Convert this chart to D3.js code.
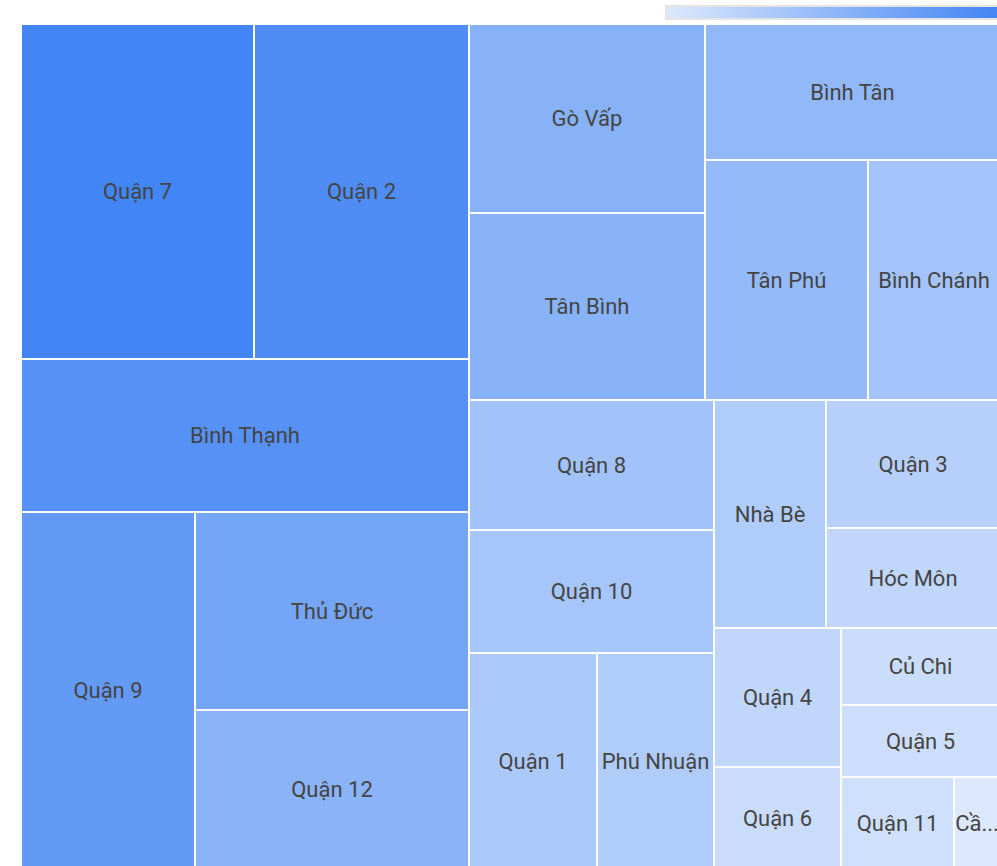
<!DOCTYPE html>
<html>
<head>
<meta charset="utf-8">
<title>Treemap quận huyện</title>
<script src="https://cdn.jsdelivr.net/npm/d3@7"></script>
<style>
  body { margin: 0; background: #fff; }
  text { font-family: Roboto, "Noto Sans", sans-serif; }
</style>
</head>
<body>
<div id="chart"></div>
<script>

    // districts and their sizes (arbitrary units)
    var districts = ["Quận 7", "Quận 2", "Bình Thạnh", "Quận 9", "Thủ Đức", "Quận 12",
                     "Gò Vấp", "Tân Bình", "Bình Tân", "Tân Phú", "Bình Chánh",
                     "Quận 8", "Quận 10", "Quận 1", "Phú Nhuận", "Nhà Bè", "Quận 3",
                     "Hóc Môn", "Quận 4", "Quận 6", "Củ Chi", "Quận 5", "Quận 11", "Cần Giờ"];
    var values = [77.8, 71.5, 68.4, 61.9, 53.8, 43.4,
                  44.6, 43.9, 40.0, 38.7, 31.5,
                  31.9, 30.1, 27.5, 25.2, 25.3, 22.3,
                  17.4, 17.4, 12.9, 12.2, 11.3, 10.4, 4.2];

    // how the cells are grouped in the reference layout
    var groups = [
        [[["Quận 7", "Quận 2"], "Bình Thạnh"], ["Quận 9", ["Thủ Đức", "Quận 12"]]],
        [[["Gò Vấp", "Tân Bình"], ["Bình Tân", ["Tân Phú", "Bình Chánh"]]],
         [["Quận 8", "Quận 10", ["Quận 1", "Phú Nhuận"]],
          [["Nhà Bè", ["Quận 3", "Hóc Môn"]],
           [["Quận 4", "Quận 6"], ["Củ Chi", "Quận 5", ["Quận 11", "Cần Giờ"]]]]]]
    ];

    var minColor = "#dce8fd", maxColor = "#4285f4";

    var width = 997, height = 866;
    var marginLeft = 22, marginTop = 25, innerW = 977, innerH = 843;

    var valueOf = {};
    districts.forEach(function(d, i) { valueOf[d] = values[i]; });

    var color = d3.scaleLinear()
        .domain([d3.min(values), d3.max(values)])
        .range([minColor, maxColor])
        .interpolate(d3.interpolateRgb);

    var svg = d3.select("#chart").append("svg")
        .attr("width", width)
        .attr("height", height);

    // colour scale legend, top right
    var grad = svg.append("defs").append("linearGradient")
        .attr("id", "legendGrad");
    grad.append("stop").attr("offset", "0%").attr("stop-color", minColor);
    grad.append("stop").attr("offset", "100%").attr("stop-color", maxColor);

    svg.append("rect")
        .attr("x", 665).attr("y", 5)
        .attr("width", 345).attr("height", 15)
        .attr("fill", "#e4e4e4");
    svg.append("rect")
        .attr("x", 667).attr("y", 7)
        .attr("width", 333).attr("height", 11)
        .attr("fill", "url(#legendGrad)");

    // split wide boxes left-right, tall boxes top-bottom
    function tile(node, x0, y0, x1, y1) {
        if (x1 - x0 > y1 - y0) d3.treemapDice(node, x0, y0, x1, y1);
        else d3.treemapSlice(node, x0, y0, x1, y1);
    }

    var root = d3.hierarchy(groups, function(d) { return Array.isArray(d) ? d : null; })
        .sum(function(d) { return Array.isArray(d) ? 0 : valueOf[d]; });

    d3.treemap()
        .tile(tile)
        .size([innerW, innerH])
        .paddingInner(2)
        .round(true)(root);

    var g = svg.append("g").attr("transform", "translate(" + marginLeft + "," + marginTop + ")");

    var cells = g.selectAll("g.cell")
        .data(root.leaves())
        .enter()
            .append("g")
            .attr("class", "cell")
            .attr("transform", function(d) { return "translate(" + d.x0 + "," + d.y0 + ")"; });

    cells.append("rect")
        .attr("width", function(d) { return d.x1 - d.x0; })
        .attr("height", function(d) { return d.y1 - d.y0; })
        .attr("fill", function(d) { return color(d.value); });

    cells.append("text")
        .attr("x", function(d) { return (d.x1 - d.x0) / 2; })
        .attr("y", function(d) { return (d.y1 - d.y0) / 2; })
        .attr("text-anchor", "middle")
        .attr("dominant-baseline", "central")
        .attr("font-size", "22px")
        .attr("fill", "#444")
        .text(function(d) { return d.data; })
        .each(function(d) {
            // shorten labels that do not fit, like "Cầ..."
            var el = d3.select(this), room = d.x1 - d.x0;
            var txt = d.data;
            if (this.getComputedTextLength() <= room) return;
            while (txt.length > 1) {
                txt = txt.slice(0, -1);
                el.text(txt + "...");
                if (this.getComputedTextLength() <= room) break;
            }
        });

</script>
</body>
</html>
